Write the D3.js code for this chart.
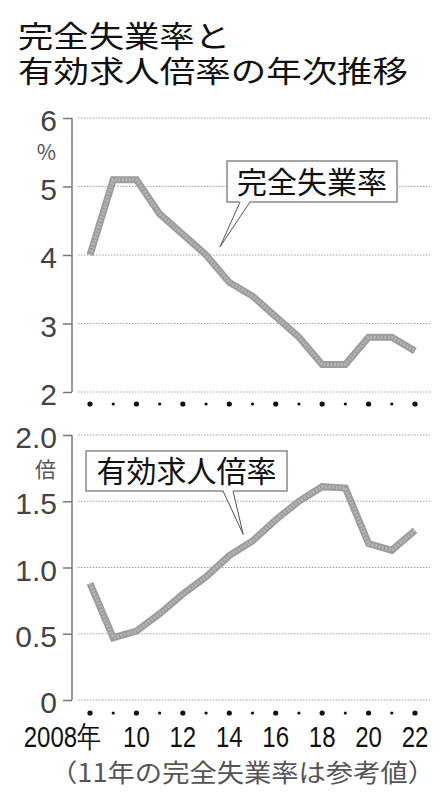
<!DOCTYPE html>
<html><head><meta charset="utf-8">
<script src="https://cdn.jsdelivr.net/npm/d3@7"></script>
<style>
html,body{margin:0;padding:0;background:#fff;}
svg{display:block;}
</style></head>
<body>
<script>
const years = [2008,2009,2010,2011,2012,2013,2014,2015,2016,2017,2018,2019,2020,2021,2022];
const unemployment = [4.0,5.1,5.1,4.6,4.3,4.0,3.6,3.4,3.1,2.8,2.4,2.4,2.8,2.8,2.6];
const jobRatio = [0.88,0.47,0.52,0.65,0.80,0.93,1.09,1.20,1.36,1.50,1.61,1.60,1.18,1.13,1.28];
const topTicks = [2,3,4,5,6];
const topTickLabels = ["2","3","4","5","6"];
const botTicks = [0,0.5,1.0,1.5,2.0];
const botTickLabels = ["0","0.5","1.0","1.5","2.0"];
const xLabelYears = [2008,2010,2012,2014,2016,2018,2020,2022];
const xLabels = ["2008年","10","12","14","16","18","20","22"];
const titleLines = ["完全失業率と","有効求人倍率の年次推移"];
const topUnit = "%";
const botUnit = "倍";
const topLabel = "完全失業率";
const botLabel = "有効求人倍率";
const footnote = "（11年の完全失業率は参考値）";

const W = 446, H = 799;
const svg = d3.select("body").append("svg").attr("width", W).attr("height", H);
const CJK = "'Noto Sans CJK JP','Noto Sans CJK SC',sans-serif";
const NUM = "'Liberation Sans',Arial,sans-serif";

// title
svg.append("text").attr("x", 18).attr("y", 47).attr("font-family", CJK).attr("font-size", 30)
  .attr("textLength", 212).attr("lengthAdjust", "spacingAndGlyphs").attr("fill", "#111").text(titleLines[0]);
svg.append("text").attr("x", 18).attr("y", 82).attr("font-family", CJK).attr("font-size", 30)
  .attr("textLength", 390).attr("lengthAdjust", "spacingAndGlyphs").attr("fill", "#111").text(titleLines[1]);

const x = d3.scaleLinear().domain([2008, 2022]).range([90, 415]);
const yTop = d3.scaleLinear().domain([2, 6]).range([392, 118]);
const yBot = d3.scaleLinear().domain([0, 2]).range([700, 435]);

function panel(y, ticks, tickLabels, values, unit, unitY, dotY) {
  const g = svg.append("g");
  g.selectAll("line.grid").data(ticks).enter().append("line")
    .attr("x1", 78).attr("x2", 430).attr("y1", d => y(d)).attr("y2", d => y(d))
    .attr("stroke", "#a0a0a0").attr("stroke-width", 1).attr("stroke-dasharray", "1.5,1.5");
  const axis = d3.axisLeft(y).tickValues(ticks).tickFormat((d, i) => tickLabels[i]).tickSize(9).tickPadding(6);
  const ax = g.append("g").attr("transform", "translate(72,0)").call(axis);
  ax.select(".domain").attr("stroke", "#999").attr("stroke-width", 2).attr("d", `M0,${y.range()[0]}V${y.range()[1]}`);
  ax.selectAll(".tick line").attr("stroke", "#777").attr("stroke-width", 1.5);
  ax.selectAll(".tick text").attr("font-family", NUM).attr("font-size", 30).attr("fill", "#444")
    .attr("dy", "0.42em");
  g.append("text").attr("x", 56).attr("y", unitY).attr("text-anchor", "end").attr("font-family", CJK)
    .attr("font-size", 21).attr("fill", "#555").text(unit);
  g.selectAll("circle.yd").data(years).enter().append("circle")
    .attr("cx", d => x(d)).attr("cy", dotY).attr("r", d => d % 2 === 0 ? 2.6 : 1.6).attr("fill", "#111");
  const line = d3.line().x((d, i) => x(years[i])).y(d => y(d)).curve(d3.curveLinear);
  g.append("path").datum(values).attr("d", line).attr("fill", "none")
    .attr("stroke", "#9c9c9c").attr("stroke-width", 7).attr("stroke-linejoin", "miter");
  g.append("path").datum(values).attr("d", line).attr("fill", "none")
    .attr("stroke", "#b4b4b4").attr("stroke-width", 3.5).attr("stroke-dasharray", "2,1.5").attr("stroke-linejoin", "miter");
  return g;
}

panel(yTop, topTicks, topTickLabels, unemployment, topUnit, 160, 404);
panel(yBot, botTicks, botTickLabels, jobRatio, botUnit, 477, 713);

function callout(bx, by, bw, bh, b1, b2, tip, label) {
  const g = svg.append("g");
  g.append("rect").attr("x", bx).attr("y", by).attr("width", bw).attr("height", bh)
    .attr("fill", "#fff").attr("stroke", "#8a8a8a").attr("stroke-width", 1.5);
  g.append("polygon").attr("points", `${b1},${by + bh - 1} ${b2},${by + bh - 1} ${tip[0]},${tip[1]}`)
    .attr("fill", "#fff").attr("stroke", "none");
  g.append("path").attr("d", `M${b1},${by + bh}L${tip[0]},${tip[1]}L${b2},${by + bh}`)
    .attr("fill", "none").attr("stroke", "#555").attr("stroke-width", 1);
  g.append("text").attr("x", bx + bw / 2).attr("y", by + bh / 2 + 11).attr("text-anchor", "middle")
    .attr("font-family", CJK).attr("font-size", 30).attr("fill", "#111").text(label);
}
callout(227, 161, 170, 41, 240, 250, [x(2013.6), yTop(4.12)], topLabel);
callout(86, 451, 201, 40, 223, 233, [x(2014.6), yBot(1.25)], botLabel);

svg.selectAll("text.xl").data(xLabelYears).enter().append("text")
  .attr("transform", (d, i) => `translate(${i === 0 ? 101 : x(d)},747) scale(0.8,1)`)
  .attr("text-anchor", (d, i) => i === 0 ? "end" : "middle")
  .attr("font-family", NUM).attr("font-size", 30).attr("fill", "#111")
  .text((d, i) => xLabels[i]);

svg.append("text").attr("x", 50).attr("y", 782).attr("font-family", CJK).attr("font-size", 25)
  .attr("textLength", 385).attr("lengthAdjust", "spacingAndGlyphs").attr("fill", "#555").text(footnote);
</script>
</body></html>
